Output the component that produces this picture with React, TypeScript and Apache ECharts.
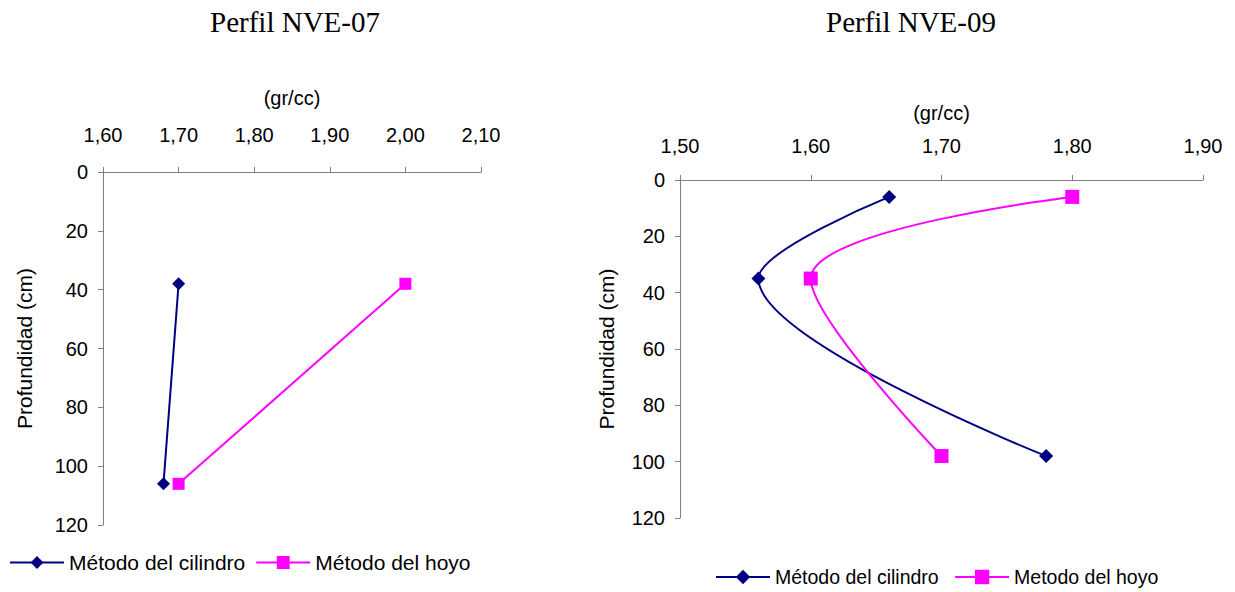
import React, { useEffect, useRef } from "react";
import * as echarts from "echarts";

// Perfil NVE-07: depth (cm) and bulk density (gr/cc)
const depth07 = [38, 106];
const cilindro07 = [1.7, 1.68];
const hoyo07 = [2.0, 1.7];

// Perfil NVE-09
const depth09 = [6, 35, 98];
const cilindro09 = [1.66, 1.56, 1.78];
const hoyo09 = [1.8, 1.6, 1.7];

const xTicks07 = { min: 1.6, max: 2.1, step: 0.1 };
const xTicks09 = { min: 1.5, max: 1.9, step: 0.1 };
const depthTicks = { min: 0, max: 120, step: 20 };

const NAVY = "#000080";
const MAGENTA = "#FF00FF";
const AXIS = "#808080";
const SANS = "'Liberation Sans', Arial, sans-serif";
const SERIF = "'Liberation Serif', 'Times New Roman', serif";

const pairs = (xs: number[], ys: number[]) => xs.map((x, i) => [x, ys[i]]);
const fmt = (v: number) => v.toFixed(2).replace(".", ",");

function xAxis(gridIndex: number, t: { min: number; max: number; step: number }, margin: number, nameGap: number) {
  return {
    type: "value",
    gridIndex,
    position: "top",
    min: t.min,
    max: t.max,
    interval: t.step,
    name: "(gr/cc)",
    nameLocation: "middle",
    nameGap,
    nameTextStyle: { color: "#000", fontSize: 20, fontFamily: SANS },
    axisLine: { show: true, onZero: false, lineStyle: { color: AXIS, width: 1 } },
    axisTick: { show: true, length: 5, lineStyle: { color: AXIS } },
    axisLabel: { color: "#000", fontSize: 20, fontFamily: SANS, margin, formatter: fmt },
    splitLine: { show: false },
  };
}

function yAxis(gridIndex: number, nameGap: number) {
  return {
    type: "value",
    gridIndex,
    inverse: true,
    min: depthTicks.min,
    max: depthTicks.max,
    interval: depthTicks.step,
    name: "Profundidad (cm)",
    nameLocation: "middle",
    nameRotate: 90,
    nameGap,
    nameTextStyle: { color: "#000", fontSize: 21, fontFamily: SANS },
    axisLine: { show: true, onZero: false, lineStyle: { color: AXIS, width: 1 } },
    axisTick: { show: true, length: 5, lineStyle: { color: AXIS } },
    axisLabel: { color: "#000", fontSize: 20, fontFamily: SANS, margin: 15 },
    splitLine: { show: false },
  };
}

function series(name: string, idx: number, data: number[][], color: string, symbol: string, size: number, smooth: number | boolean) {
  return {
    type: "line",
    name,
    xAxisIndex: idx,
    yAxisIndex: idx,
    data,
    smooth,
    symbol,
    symbolSize: size,
    showSymbol: true,
    lineStyle: { color, width: 2 },
    itemStyle: { color },
  };
}

export default function App() {
  const ref = useRef<HTMLDivElement>(null);

  useEffect(() => {
    if (!ref.current) return;
    const chart = echarts.init(ref.current, null, { renderer: "svg" });
    chart.setOption({
      animation: false,
      backgroundColor: "#fff",
      graphic: [
        {
          type: "text",
          x: 295,
          y: 22,
          style: { text: "Perfil NVE-07", fill: "#000", font: `29px ${SERIF}`, align: "center", verticalAlign: "middle", textAlign: "center", textVerticalAlign: "middle" },
        },
        {
          type: "text",
          x: 911,
          y: 22,
          style: { text: "Perfil NVE-09", fill: "#000", font: `29px ${SERIF}`, align: "center", verticalAlign: "middle", textAlign: "center", textVerticalAlign: "middle" },
        },
      ],
      grid: [
        { left: 103, top: 172, width: 378, height: 353 },
        { left: 680, top: 180, width: 523, height: 338 },
      ],
      xAxis: [xAxis(0, xTicks07, 27, 64), xAxis(1, xTicks09, 24, 57)],
      yAxis: [yAxis(0, 68), yAxis(1, 63)],
      legend: [
        {
          left: 9,
          top: 552,
          padding: 0,
          itemWidth: 54,
          itemHeight: 16,
          itemGap: 10,
          textStyle: { color: "#000", fontSize: 21, fontFamily: SANS },
          data: ["Método del cilindro", "Método del hoyo"],
        },
        {
          left: 715,
          top: 567,
          padding: 0,
          itemWidth: 54,
          itemHeight: 18,
          itemGap: 10,
          textStyle: { color: "#000", fontSize: 19.5, fontFamily: SANS },
          data: ["Método del cilindro ", "Metodo del hoyo"],
        },
      ],
      series: [
        series("Método del cilindro", 0, pairs(cilindro07, depth07), NAVY, "diamond", 13, false),
        series("Método del hoyo", 0, pairs(hoyo07, depth07), MAGENTA, "rect", 12, false),
        series("Método del cilindro ", 1, pairs(cilindro09, depth09), NAVY, "diamond", 14, 0.35),
        series("Metodo del hoyo", 1, pairs(hoyo09, depth09), MAGENTA, "rect", 14, 0.35),
      ],
    });
    return () => chart.dispose();
  }, []);

  return <div ref={ref} style={{ position: "fixed", left: 0, top: 0, width: 1235, height: 592 }} />;
}
